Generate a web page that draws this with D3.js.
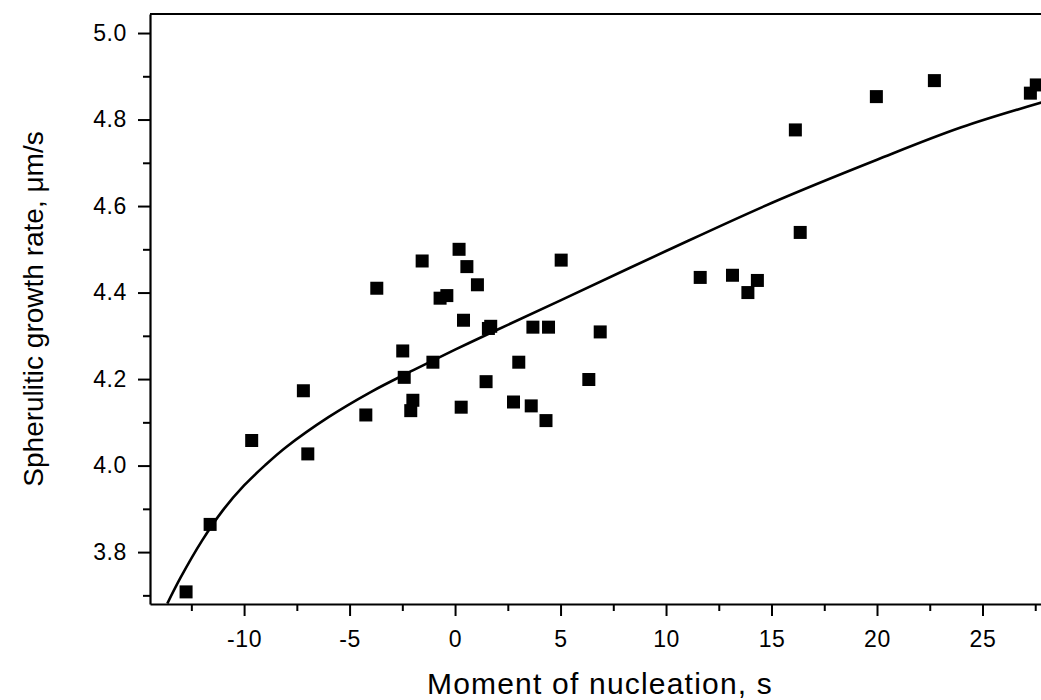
<!DOCTYPE html>
<html>
<head>
<meta charset="utf-8">
<script src="https://cdn.jsdelivr.net/npm/d3@7"></script>
<style>
  body { margin: 0; background: #fff; }
  svg { display: block; font-family: Arial, "Liberation Sans", sans-serif; }
</style>
</head>
<body>
<div id="chart"></div>
<script>
    // Measured points: moment of nucleation (s) vs growth rate (um/s)
    const pointX = [-12.75, -11.61, -9.64, -7.19, -6.98, -4.23, -3.71, -2.48, -2.41, -2.0,
        -2.1, -1.56, -1.05, -0.71, -0.39, 0.19, 0.29, 0.40, 0.56, 1.06,
        1.47, 1.58, 1.69, 2.77, 3.02, 3.61, 3.69, 4.31, 4.43, 5.03,
        6.34, 6.88, 11.62, 13.15, 13.88, 14.33, 16.13, 16.36, 19.97, 22.72,
        27.27, 27.55];
    const pointY = [3.708, 3.864, 4.058, 4.173, 4.027, 4.117, 4.41, 4.265, 4.204, 4.151,
        4.127, 4.473, 4.239, 4.387, 4.393, 4.50, 4.135, 4.336, 4.46, 4.418,
        4.194, 4.317, 4.322, 4.147, 4.239, 4.138, 4.320, 4.104, 4.320, 4.475,
        4.199, 4.309, 4.435, 4.440, 4.400, 4.428, 4.776, 4.539, 4.853, 4.890,
        4.861, 4.880];

    // Fitted curve
    const fitX = [-13.64, -13.0, -12.0, -11.0, -10.0, -9.0, -8.0, -6.0, -4.0, -2.0,
        0, 2, 5, 10, 15, 20, 24, 28.2];
    const fitY = [3.681, 3.742, 3.826, 3.897, 3.954, 4.001, 4.043, 4.112, 4.170, 4.220,
        4.268, 4.314, 4.382, 4.496, 4.607, 4.707, 4.782, 4.845];

    const xTicks = [-10, -5, 0, 5, 10, 15, 20, 25];
    const xMinor = [-12.5, -7.5, -2.5, 2.5, 7.5, 12.5, 17.5, 22.5, 27.5];
    const yTicks = [3.8, 4.0, 4.2, 4.4, 4.6, 4.8, 5.0];
    const yMinor = [3.7, 3.9, 4.1, 4.3, 4.5, 4.7, 4.9];

    const W = 1041, H = 700;
    const margin = { top: 14, right: -9, bottom: 96, left: 150 };
    const width = W - margin.left - margin.right;
    const height = H - margin.top - margin.bottom;

    const svg = d3.select("#chart")
        .append("svg")
        .attr("width", W)
        .attr("height", H);

    const g = svg.append("g")
        .attr("transform", `translate(${margin.left},${margin.top})`);

    const x = d3.scaleLinear().domain([-14.46, 28.2]).range([0, width]);
    const y = d3.scaleLinear().domain([3.68, 5.044]).range([height, 0]);

    // minor ticks first, then major axes on top
    g.append("g")
        .attr("transform", `translate(0,${height})`)
        .call(d3.axisBottom(x).tickValues(xMinor).tickSize(7).tickFormat(""))
        .call(a => a.select(".domain").remove())
        .selectAll("line").attr("stroke-width", 2);

    g.append("g")
        .call(d3.axisLeft(y).tickValues(yMinor).tickSize(7).tickFormat(""))
        .call(a => a.select(".domain").remove())
        .selectAll("line").attr("stroke-width", 2);

    const xAxis = g.append("g")
        .attr("transform", `translate(0,${height})`)
        .call(d3.axisBottom(x).tickValues(xTicks).tickSize(12).tickSizeOuter(0)
            .tickPadding(15).tickFormat(d => String(d)));

    const yAxis = g.append("g")
        .call(d3.axisLeft(y).tickValues(yTicks).tickSize(12).tickSizeOuter(0)
            .tickPadding(11).tickFormat(d3.format(".1f")));

    [xAxis, yAxis].forEach(a => {
        a.select(".domain").attr("stroke-width", 2.2);
        a.selectAll("line").attr("stroke-width", 2);
        a.selectAll("text")
            .attr("font-size", 23)
            .attr("letter-spacing", "0.6px")
            .attr("fill", "#000");
    });

    // top frame line
    g.append("line")
        .attr("x1", 0).attr("x2", width)
        .attr("y1", 0).attr("y2", 0)
        .attr("stroke", "#000")
        .attr("stroke-width", 2.2);

    // clip so the curve stays in the plot
    svg.append("clipPath").attr("id", "clip")
        .append("rect")
        .attr("x", 0).attr("y", 0)
        .attr("width", width).attr("height", height);

    const fitData = fitX.map((v, i) => ({ x: v, y: fitY[i] }));
    g.append("path")
        .datum(fitData)
        .attr("clip-path", "url(#clip)")
        .attr("fill", "none")
        .attr("stroke", "#000")
        .attr("stroke-width", 2.6)
        .attr("d", d3.line()
            .x(d => x(d.x))
            .y(d => y(d.y))
            .curve(d3.curveCatmullRom.alpha(0.5)));

    const pts = pointX.map((v, i) => ({ x: v, y: pointY[i] }));
    const sq = 13;
    g.selectAll(".pt")
        .data(pts)
        .enter().append("rect")
        .attr("class", "pt")
        .attr("x", d => x(d.x) - sq / 2)
        .attr("y", d => y(d.y) - sq / 2)
        .attr("width", sq)
        .attr("height", sq)
        .attr("fill", "#000");

    // axis titles
    svg.append("text")
        .attr("x", margin.left + x((x.domain()[0] + x.domain()[1]) / 2))
        .attr("y", 694)
        .attr("text-anchor", "middle")
        .attr("font-size", 30)
        .attr("letter-spacing", "1.2px")
        .text("Moment of nucleation, s");

    svg.append("text")
        .attr("transform", `translate(43,${margin.top + height / 2}) rotate(-90)`)
        .attr("text-anchor", "middle")
        .attr("font-size", 28)
        .text("Spherulitic growth rate, μm/s");
</script>
</body>
</html>
